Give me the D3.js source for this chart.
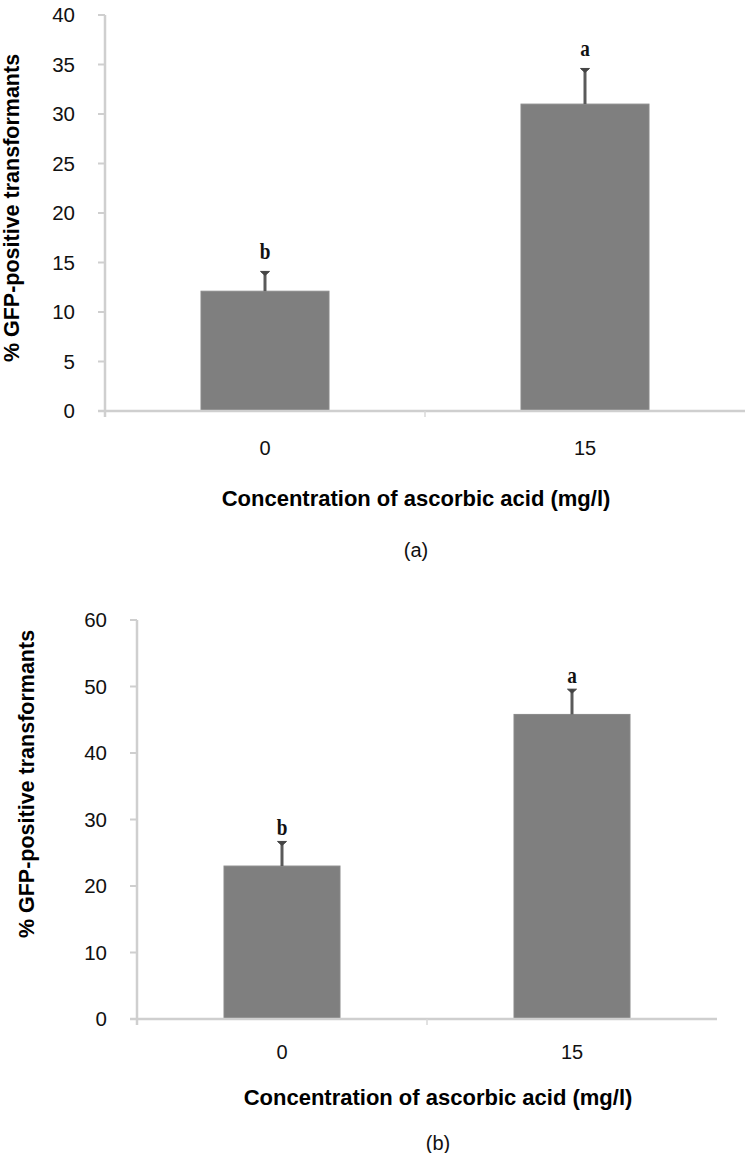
<!DOCTYPE html>
<html>
<head>
<meta charset="utf-8">
<script src="https://cdn.jsdelivr.net/npm/d3@7"></script>
<style>
  body { margin: 0; background: #fff; }
  svg { display: block; }
</style>
</head>
<body>
<script>
// data
var categories = ["0", "15"];

var valuesA = [12.1, 31.0];
var errorsA = [2.0, 3.6];
var lettersA = ["b", "a"];
var ticksA = [0, 5, 10, 15, 20, 25, 30, 35, 40];

var valuesB = [23.0, 45.8];
var errorsB = [3.7, 3.8];
var lettersB = ["b", "a"];
var ticksB = [0, 10, 20, 30, 40, 50, 60];

var svg = d3.select("body")
  .append("svg")
  .attr("width", 752)
  .attr("height", 1153);

function drawPanel(p) {
  var x = d3.scaleBand()
    .domain(categories)
    .range([p.left, p.right])
    .padding(0);

  var y = d3.scaleLinear()
    .domain([0, d3.max(p.ticks)])
    .range([p.bottom, p.top]);

  var barW = x.bandwidth() * 0.4;
  var g = svg.append("g");

  // axes (light grey lines like the original)
  g.append("line")
    .attr("x1", p.left).attr("x2", p.left)
    .attr("y1", y(d3.max(p.ticks))).attr("y2", p.bottom + 6)
    .attr("stroke", "#cfcfcf").attr("stroke-width", 2.5);

  g.selectAll(".ytick")
    .data(p.ticks)
    .enter()
    .append("line")
    .attr("x1", p.left - 7).attr("x2", p.left)
    .attr("y1", d => y(d)).attr("y2", d => y(d))
    .attr("stroke", "#cfcfcf").attr("stroke-width", 2);

  g.selectAll(".ylab")
    .data(p.ticks)
    .enter()
    .append("text")
    .attr("x", p.left - 30)
    .attr("y", d => y(d))
    .attr("dy", "0.35em")
    .attr("text-anchor", "end")
    .attr("font-family", "Liberation Sans, Arial, sans-serif")
    .attr("font-size", 20.5)
    .attr("fill", "#111")
    .text(d => d);

  // bars
  g.selectAll(".bar")
    .data(p.values)
    .enter()
    .append("rect")
    .attr("x", (d, i) => x(categories[i]) + (x.bandwidth() - barW) / 2)
    .attr("y", d => y(d))
    .attr("width", barW)
    .attr("height", d => p.bottom - y(d))
    .attr("fill", "#7f7f7f")
    .attr("stroke", "#8a8a8a")
    .attr("stroke-width", 1);

  // x axis on top of the bars
  g.append("line")
    .attr("x1", p.left - 7).attr("x2", p.right)
    .attr("y1", p.bottom).attr("y2", p.bottom)
    .attr("stroke", "#cfcfcf").attr("stroke-width", 2.5);

  g.selectAll(".xtick")
    .data(categories.slice(1))
    .enter()
    .append("line")
    .attr("x1", d => x(d)).attr("x2", d => x(d))
    .attr("y1", p.bottom).attr("y2", p.bottom + 6)
    .attr("stroke", "#d8d8d8").attr("stroke-width", 1.5);

  // error bars
  g.selectAll(".err")
    .data(p.values)
    .enter()
    .append("line")
    .attr("x1", (d, i) => x(categories[i]) + x.bandwidth() / 2)
    .attr("x2", (d, i) => x(categories[i]) + x.bandwidth() / 2)
    .attr("y1", d => y(d))
    .attr("y2", (d, i) => y(d + p.errors[i]))
    .attr("stroke", "#5a5a5a").attr("stroke-width", 3);

  g.selectAll(".cap")
    .data(p.values)
    .enter()
    .append("path")
    .attr("d", function(d, i) {
      var cx = x(categories[i]) + x.bandwidth() / 2;
      var cy = y(d + p.errors[i]);
      return "M" + (cx - 4.5) + "," + cy + "L" + (cx + 4.5) + "," + cy + "L" + cx + "," + (cy + 4) + "Z";
    })
    .attr("fill", "#444").attr("stroke", "#444").attr("stroke-width", 1);

  // significance letters (narrow serif, as in the original)
  g.selectAll(".letter")
    .data(p.values)
    .enter()
    .append("text")
    .attr("transform", (d, i) => "translate(" + (x(categories[i]) + x.bandwidth() / 2) + "," +
      (y(d + p.errors[i]) - p.letterGap) + ") scale(0.8,1)")
    .attr("text-anchor", "middle")
    .attr("font-family", "Liberation Serif, Times New Roman, serif")
    .attr("font-weight", "bold")
    .attr("font-size", 24)
    .attr("fill", "#111")
    .text((d, i) => p.letters[i]);

  // category labels
  g.selectAll(".xlab")
    .data(categories)
    .enter()
    .append("text")
    .attr("x", d => x(d) + x.bandwidth() / 2)
    .attr("y", p.catY)
    .attr("dy", "0.35em")
    .attr("text-anchor", "middle")
    .attr("font-family", "Liberation Sans, Arial, sans-serif")
    .attr("font-size", 20)
    .attr("fill", "#111")
    .text(d => d);

  // axis titles
  g.append("text")
    .attr("x", (p.left + p.right) / 2 - p.titleShift)
    .attr("y", p.titleY)
    .attr("dy", "0.35em")
    .attr("text-anchor", "middle")
    .attr("font-family", "Liberation Sans, Arial, sans-serif")
    .attr("font-weight", "bold")
    .attr("font-size", 22)
    .attr("fill", "#000")
    .text("Concentration of ascorbic acid (mg/l)");

  g.append("text")
    .attr("transform", "translate(" + p.yTitleX + "," + p.yTitleY + ") rotate(-90)")
    .attr("dy", "0.35em")
    .attr("text-anchor", "middle")
    .attr("font-family", "Liberation Sans, Arial, sans-serif")
    .attr("font-weight", "bold")
    .attr("font-size", 21.5)
    .attr("fill", "#000")
    .text("% GFP-positive transformants");

  g.append("text")
    .attr("x", (p.left + p.right) / 2 - p.titleShift)
    .attr("y", p.labelY)
    .attr("dy", "0.35em")
    .attr("text-anchor", "middle")
    .attr("font-family", "Liberation Sans, Arial, sans-serif")
    .attr("font-size", 20)
    .attr("fill", "#111")
    .text(p.label);
}

drawPanel({
  values: valuesA, errors: errorsA, letters: lettersA, ticks: ticksA,
  left: 105, right: 745, top: 15, bottom: 411,
  catY: 448, titleY: 498, labelY: 550, titleShift: 9, letterGap: 12,
  yTitleX: 11, yTitleY: 208, label: "(a)"
});

drawPanel({
  values: valuesB, errors: errorsB, letters: lettersB, ticks: ticksB,
  left: 137, right: 717, top: 620, bottom: 1019,
  catY: 1052, titleY: 1097, labelY: 1143, titleShift: -11, letterGap: 6,
  yTitleX: 26, yTitleY: 784, label: "(b)"
});
</script>
</body>
</html>
